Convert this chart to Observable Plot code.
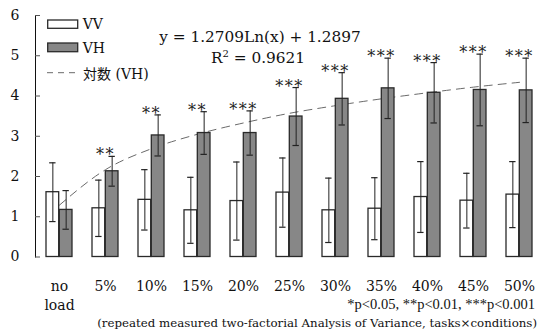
<!DOCTYPE html>
<html>
<head>
<meta charset="utf-8">
<script src="https://cdn.jsdelivr.net/npm/d3@7"></script>
<script src="https://cdn.jsdelivr.net/npm/@observablehq/plot@0.6"></script>
<style>
  html, body { margin: 0; padding: 0; background: #fff; }
  #chart svg { display: block; }
</style>
</head>
<body>
<div id="chart"></div>
<script>
// ---- data ----
const categories = ["no\nload", "5%", "10%", "15%", "20%", "25%", "30%", "35%", "40%", "45%", "50%"];
const vv      = [1.61, 1.21, 1.42, 1.16, 1.39, 1.60, 1.16, 1.20, 1.49, 1.40, 1.55];
const vvErr   = [0.73, 0.70, 0.75, 0.82, 0.97, 0.86, 0.80, 0.77, 0.88, 0.68, 0.82];
const vh      = [1.17, 2.13, 3.02, 3.08, 3.08, 3.49, 3.93, 4.19, 4.08, 4.15, 4.14];
const vhErr   = [0.48, 0.37, 0.51, 0.53, 0.55, 0.72, 0.65, 0.75, 0.75, 0.89, 0.80];
const stars   = ["", "**", "**", "**", "***", "***", "***", "***", "***", "***", "***"];
const trendVH = [1.29, 2.17, 2.69, 3.05, 3.33, 3.57, 3.76, 3.93, 4.08, 4.22, 4.34];
const yTicks  = [0, 1, 2, 3, 4, 5, 6];
const seriesNames = ["VV", "VH", "対数 (VH)"];
const equationText = "y = 1.2709Ln(x) + 1.2897";
const r2Value = "0.9621";
const noteStars = "*p<0.05, **p<0.01, ***p<0.001";
const noteMethod = "(repeated measured two-factorial Analysis of Variance, tasks×conditions)";

const rows = categories.map((c, i) => ({
  cat: c, vv: vv[i], vvErr: vvErr[i], vh: vh[i], vhErr: vhErr[i], star: stars[i], trend: trendVH[i]
}));

const W = 539, H = 331;
const BW = 26.62;      // band width (pixels) of one category pair
const HALF = BW / 2;
const CAP = 7;
const ink = "#2a2a2a";

const plot = Plot.plot({
  width: W,
  height: H,
  marginLeft: 35,
  marginRight: 0,
  marginTop: 15,
  marginBottom: 74.5,
  style: { fontFamily: "DejaVu Serif", fontSize: "14px", color: "#111", background: "#fff" },
  x: { domain: categories, paddingInner: 0.425, paddingOuter: 0.21, range: [35, 544.07] },
  y: { domain: [0, 6], ticks: yTicks, tickSize: 0, tickPadding: 16, tickFormat: d => String(d), line: true, label: null },
  marks: [
    Plot.axisX({ tickSize: 0, tickPadding: 20, lineHeight: 1.39, fontSize: 14, label: null }),
    // inward y ticks
    Plot.tickY(yTicks, { y: d => d, insetRight: W - 35 - 5, stroke: "#555" }),
    // logarithmic trend line (behind bars)
    Plot.line(rows, { x: "cat", y: "trend", stroke: "#6a6a6a", strokeWidth: 1, strokeDasharray: "8,6", curve: "monotone-x" }),
    // bars
    Plot.barY(rows, { x: "cat", y: "vv", insetRight: HALF, fill: "#fff", stroke: ink, strokeWidth: 1.3 }),
    Plot.barY(rows, { x: "cat", y: "vh", insetLeft: HALF, fill: "#878787", stroke: ink, strokeWidth: 1.3 }),
    // error bars VV
    Plot.ruleX(rows, { x: "cat", y1: d => d.vv - d.vvErr, y2: d => d.vv + d.vvErr, dx: -HALF / 2, stroke: "#222", strokeWidth: 1 }),
    Plot.tickY(rows, { x: "cat", y: d => d.vv + d.vvErr, insetLeft: HALF / 2 - CAP / 2, insetRight: BW - HALF / 2 - CAP / 2, stroke: "#222", strokeWidth: 1.2 }),
    Plot.tickY(rows, { x: "cat", y: d => d.vv - d.vvErr, insetLeft: HALF / 2 - CAP / 2, insetRight: BW - HALF / 2 - CAP / 2, stroke: "#222", strokeWidth: 1.2 }),
    // error bars VH
    Plot.ruleX(rows, { x: "cat", y1: d => d.vh - d.vhErr, y2: d => d.vh + d.vhErr, dx: HALF / 2, stroke: "#222", strokeWidth: 1 }),
    Plot.tickY(rows, { x: "cat", y: d => d.vh + d.vhErr, insetLeft: BW - HALF / 2 - CAP / 2, insetRight: HALF / 2 - CAP / 2, stroke: "#222", strokeWidth: 1.2 }),
    Plot.tickY(rows, { x: "cat", y: d => d.vh - d.vhErr, insetLeft: BW - HALF / 2 - CAP / 2, insetRight: HALF / 2 - CAP / 2, stroke: "#222", strokeWidth: 1.2 }),
    // significance stars
    Plot.text(rows, { x: "cat", y: d => d.vh + d.vhErr, text: "star", lineAnchor: "bottom", dy: 4, fontSize: 16, fill: "#222", textAnchor: "middle", className: "stars" })
  ]
});

document.getElementById("chart").appendChild(plot);

// widen the asterisk spacing a little, like the reference's glyphs
d3.select(plot).selectAll(".stars text").attr("letter-spacing", "1.5px");

// ---- legend and annotations ----
const svg = d3.select(plot);
const ann = svg.append("g")
  .attr("font-family", "DejaVu Serif, 'Noto Sans CJK JP'")
  .attr("fill", "#111")
  .attr("text-anchor", "start");

ann.append("rect").attr("x", 47.7).attr("y", 20).attr("width", 30).attr("height", 8.3)
  .attr("fill", "#fff").attr("stroke", ink).attr("stroke-width", 1.3);
ann.append("rect").attr("x", 47.7).attr("y", 43).attr("width", 30).attr("height", 8.7)
  .attr("fill", "#878787").attr("stroke", ink).attr("stroke-width", 1.3);
ann.append("line").attr("x1", 47).attr("x2", 79).attr("y1", 72.7).attr("y2", 72.7)
  .attr("stroke", "#6a6a6a").attr("stroke-width", 1).attr("stroke-dasharray", "6,5");

ann.append("text").attr("x", 82.7).attr("y", 29).attr("font-size", 14).attr("text-anchor", "start").text(seriesNames[0]);
ann.append("text").attr("x", 82.7).attr("y", 53).attr("font-size", 14).attr("text-anchor", "start").text(seriesNames[1]);
ann.append("text").attr("x", 83).attr("y", 79).attr("font-size", 14).attr("text-anchor", "start").text(seriesNames[2]);

ann.append("text").attr("x", 260).attr("y", 42).attr("font-size", 15.3).attr("text-anchor", "middle").text(equationText);
const r2 = ann.append("text").attr("x", 258).attr("y", 63).attr("font-size", 15.3).attr("text-anchor", "middle");
r2.append("tspan").text("R");
r2.append("tspan").attr("font-size", 10).attr("dy", -6).text("2");
r2.append("tspan").attr("dy", 6).text(" = " + r2Value);

ann.append("text").attr("x", 535).attr("y", 309).attr("font-family", "Liberation Serif").attr("font-size", 14.5)
  .attr("text-anchor", "end").text(noteStars);
ann.append("text").attr("x", 537).attr("y", 327).attr("font-size", 11.8)
  .attr("text-anchor", "end").text(noteMethod);
</script>
</body>
</html>
